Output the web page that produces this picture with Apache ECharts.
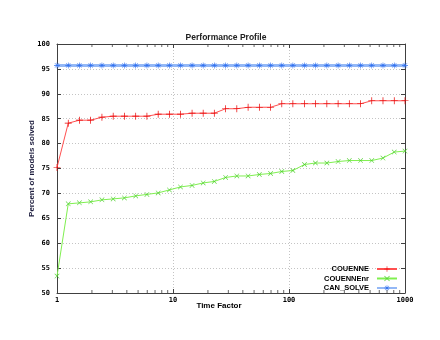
<!DOCTYPE html>
<html>
<head>
<meta charset="utf-8">
<script src="https://cdn.jsdelivr.net/npm/echarts@6/dist/echarts.min.js"></script>
<style>html,body{margin:0;padding:0;background:#fff}#c{width:440px;height:340px}</style>
</head>
<body>
<div id="c"></div>
<script>
var timeFactor = [1, 1.25, 1.56, 1.95, 2.44, 3.05, 3.81, 4.77, 5.96, 7.45, 9.31, 11.6, 14.6, 18.2, 22.7, 28.4, 35.5, 44.4, 55.5, 69.4, 86.7, 108, 136, 169, 212, 265, 331, 414, 517, 646, 808, 1000];
var couenne = [75.2, 84.1, 84.7, 84.7, 85.3, 85.5, 85.5, 85.5, 85.5, 85.9, 85.9, 85.9, 86.1, 86.1, 86.1, 87.0, 87.0, 87.3, 87.3, 87.3, 88.0, 88.0, 88.0, 88.0, 88.0, 88.0, 88.0, 88.0, 88.6, 88.6, 88.6, 88.6];
var couenneNr = [53.4, 67.9, 68.1, 68.3, 68.7, 68.9, 69.1, 69.5, 69.8, 70.1, 70.7, 71.3, 71.6, 72.1, 72.4, 73.2, 73.5, 73.5, 73.8, 74.0, 74.4, 74.6, 75.8, 76.1, 76.1, 76.4, 76.6, 76.6, 76.6, 77.1, 78.3, 78.5];
var canSolve = [95.7, 95.7, 95.7, 95.7, 95.7, 95.7, 95.7, 95.7, 95.7, 95.7, 95.7, 95.7, 95.7, 95.7, 95.7, 95.7, 95.7, 95.7, 95.7, 95.7, 95.7, 95.7, 95.7, 95.7, 95.7, 95.7, 95.7, 95.7, 95.7, 95.7, 95.7, 95.7];
var seriesNames = ['COUENNE', 'COUENNEnr', 'CAN_SOLVE'];
var minorTickX = [2, 3, 4, 5, 6, 7, 8, 9, 20, 30, 40, 50, 60, 70, 80, 90, 200, 300, 400, 500, 600, 700, 800, 900];
var xTickLabels = {1: '1', 10: '10', 100: '100', 1000: '1000'};
var yMin = 50, yMax = 100, xMin = 1, xMax = 1000;

var PLUS = 'path://M0,4.5h10v1h-10z M4.5,0h1v10h-1z';
var CROSS = 'path://M0,0.8L0.8,0L10,9.2L9.2,10Z M9.2,0L10,0.8L0.8,10L0,9.2Z';
var STAR = 'path://M0,4.5h10v1h-10z M4.5,0h1v10h-1z M1,1.6L1.6,1L9,8.4L8.4,9Z M8.4,1L9,1.6L1.6,9L1,8.4Z';

function pairs(ys) { return timeFactor.map(function (x, i) { return [x, ys[i]]; }); }

var chart = echarts.init(document.getElementById('c'), null, {renderer: 'canvas'});
var tickFont = {fontFamily: 'DejaVu Sans Mono', fontWeight: 'bold', fontSize: 7, color: '#000'};
var gridLine = {show: true, lineStyle: {color: '#c4c4c4', type: [1, 2], width: 1}};
var axisLine = {show: true, lineStyle: {color: '#404040', width: 1}};

chart.setOption({
  animation: false,
  backgroundColor: '#fff',
  title: {
    text: 'Performance Profile', left: 221, top: 28, textAlign: 'center',
    textStyle: {fontFamily: 'Liberation Sans', fontWeight: 'bold', fontSize: 8.5, color: '#202020'}
  },
  legend: {
    data: seriesNames, orient: 'vertical', right: 42, top: 265, align: 'right',
    itemWidth: 20, itemHeight: 7, itemGap: 1.5, padding: 0,
    textStyle: {fontFamily: 'Liberation Sans', fontWeight: 'bold', fontSize: 7.5, color: '#000', padding: [0, 3, 0, 0]}
  },
  grid: {left: 57, right: 35, top: 44, bottom: 47, containLabel: false},
  xAxis: [{
    type: 'log', logBase: 10, min: xMin, max: xMax, position: 'bottom',
    name: 'Time Factor', nameLocation: 'middle', nameGap: 9, nameMoveOverlap: false,
    nameTextStyle: {fontFamily: 'Liberation Sans', fontWeight: 'bold', fontSize: 8, color: '#000', padding: [0, 24, 0, 0]},
    axisLine: axisLine, axisTick: {show: true, inside: true, length: 4, lineStyle: {color: '#404040'}},
    axisLabel: Object.assign({margin: 4, formatter: function (v) { return xTickLabels[Math.round(v)] || String(v); }}, tickFont),
    splitLine: gridLine
  }, {
    type: 'log', logBase: 10, min: xMin, max: xMax, position: 'top',
    axisLine: axisLine, axisTick: {show: true, inside: true, length: 4, lineStyle: {color: '#404040'}},
    axisLabel: {show: false}, splitLine: {show: false}
  }],
  yAxis: [{
    type: 'value', min: yMin, max: yMax, interval: 5, position: 'left',
    name: 'Percent of models solved', nameLocation: 'middle', nameGap: 21, nameMoveOverlap: false,
    nameTextStyle: {fontFamily: 'Liberation Sans', fontWeight: 'bold', fontSize: 8, color: '#202040'},
    axisLine: axisLine, axisTick: {show: true, inside: true, length: 4, lineStyle: {color: '#404040'}},
    axisLabel: Object.assign({margin: 7}, tickFont), splitLine: gridLine
  }, {
    type: 'value', min: yMin, max: yMax, interval: 5, position: 'right',
    axisLine: axisLine, axisTick: {show: true, inside: true, length: 4, lineStyle: {color: '#404040'}},
    axisLabel: {show: false}, splitLine: {show: false}
  }],
  series: [{
    name: 'COUENNE', type: 'line', data: pairs(couenne),
    symbol: PLUS, symbolSize: 7, showAllSymbol: true,
    lineStyle: {color: '#ff5050', width: 1}, itemStyle: {color: '#e80000'}, z: 4
  }, {
    name: 'COUENNEnr', type: 'line', data: pairs(couenneNr),
    symbol: CROSS, symbolSize: 5, showAllSymbol: true,
    lineStyle: {color: '#80f050', width: 1}, itemStyle: {color: '#50d030'}, z: 3
  }, {
    name: 'CAN_SOLVE', type: 'line', data: pairs(canSolve),
    symbol: STAR, symbolSize: 6, showAllSymbol: true,
    lineStyle: {color: '#94b8f6', width: 3}, itemStyle: {color: '#3070f0'}, z: 2
  }, {
    name: 'minorBottom', type: 'scatter', silent: true, clip: false,
    data: minorTickX.map(function (x) { return [x, yMin]; }),
    symbol: 'rect', symbolSize: [1, 3], symbolOffset: [0, -1.5],
    itemStyle: {color: '#404040'}, z: 5
  }, {
    name: 'minorTop', type: 'scatter', silent: true, clip: false,
    data: minorTickX.map(function (x) { return [x, yMax]; }),
    symbol: 'rect', symbolSize: [1, 3], symbolOffset: [0, 1.5],
    itemStyle: {color: '#404040'}, z: 5
  }]
});
</script>
</body>
</html>
